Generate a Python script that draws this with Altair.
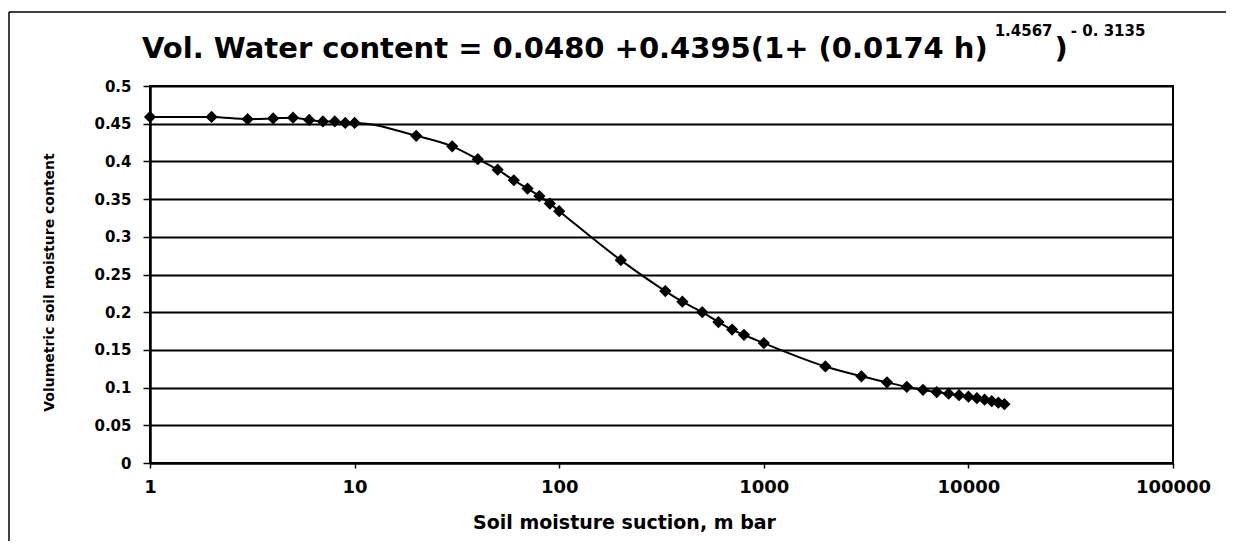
import altair as alt
import pandas as pd

# ---- data ----
suction_mbar = [1, 2, 3, 4, 5, 6, 7, 8, 9, 10,
                20, 30, 40, 50, 60, 70, 80, 90, 100,
                200, 330, 400, 500, 600, 700, 800, 1000,
                2000, 3000, 4000, 5000, 6000, 7000, 8000, 9000, 10000,
                11000, 12000, 13000, 14000, 15000]
vol_water = [0.459, 0.459, 0.456, 0.457, 0.458, 0.455, 0.453, 0.453, 0.451, 0.451,
             0.434, 0.420, 0.403, 0.389, 0.375, 0.364, 0.354, 0.344, 0.334,
             0.269, 0.228, 0.214, 0.200, 0.187, 0.177, 0.170, 0.159,
             0.128, 0.115, 0.107, 0.101, 0.097, 0.094, 0.092, 0.090, 0.088,
             0.086, 0.084, 0.082, 0.080, 0.078]
y_ticks = [0, 0.05, 0.1, 0.15, 0.2, 0.25, 0.3, 0.35, 0.4, 0.45, 0.5]
x_ticks = [1, 10, 100, 1000, 10000, 100000]

title_main = "Vol. Water content = 0.0480 +0.4395(1+ (0.0174 h)"
title_sup1 = "1.4567"
title_paren = ")"
title_sup2 = "- 0. 3135"
x_title = "Soil moisture suction, m bar"
y_title = "Volumetric soil moisture content"

FONT = "DejaVu Sans"
W, H = 1023, 377

# approximate DejaVu Sans Bold advance widths (em) for laying out the title pieces
adv = {" ": .348, ".": .381, ",": .381, "+": .838, "=": .838, "(": .458, ")": .458,
       "-": .415, "V": .774, "W": 1.102, "o": .687, "l": .343, "a": .675, "t": .478,
       "e": .678, "r": .493, "c": .593, "n": .712, "h": .712}
def tw(s, size):
    return sum(adv.get(ch, .696) for ch in s) * size

MAIN, SUP = 29, 15
w_main = tw(title_main, MAIN)
w_s1 = tw(title_sup1, SUP)
w_p = tw(title_paren, MAIN)
x0 = -8
x_s1 = x0 + w_main + 4
x_p = x_s1 + w_s1 + 2
x_s2 = x_p + w_p + 3

df = pd.DataFrame({"h": suction_mbar, "theta": vol_water})

x_enc = alt.X("h:Q",
              scale=alt.Scale(type="log", domain=[1, 100000], nice=False),
              axis=alt.Axis(values=x_ticks, format="d", title=x_title, grid=False,
                            labelFontSize=18, labelPadding=10, labelFlush=False,
                            labelOverlap=False, tickSize=5, tickWidth=1.5,
                            domainWidth=2, titleFontSize=19, titleX=474, titleY=50,
                            titleBaseline="top", titleAlign="center"))
y_enc = alt.Y("theta:Q",
              scale=alt.Scale(domain=[0, 0.5], nice=False, zero=True),
              axis=alt.Axis(values=y_ticks, format=".2~f", title=y_title,
                            labelFontSize=15, labelPadding=12, tickSize=7,
                            tickWidth=1.5, domainWidth=2.5, grid=True,
                            gridColor="black", gridWidth=2, gridOpacity=1,
                            titleFontSize=14, titleAngle=-90, titleX=-101,
                            titleY=196, titleAlign="center", titleBaseline="middle"))

base = alt.Chart(df)
line = base.mark_line(color="black", strokeWidth=2, interpolate="monotone").encode(x=x_enc, y=y_enc)
pts = base.mark_point(shape="diamond", filled=True, color="black", size=150,
                      opacity=1).encode(x=x_enc, y=y_enc)

def txt(s, size, px, py):
    return alt.Chart(pd.DataFrame({"t": [s]})).mark_text(
        align="left", baseline="alphabetic", font=FONT, fontWeight="bold",
        fontSize=size, color="black").encode(
        x=alt.value(px), y=alt.value(py), text=alt.Text("t:N"))

t1 = txt(title_main, MAIN, x0, -28)
t2 = txt(title_sup1, SUP, x_s1, -50)
t3 = txt(title_paren, MAIN, x_p, -28)
t4 = txt(title_sup2, SUP, x_s2, -50)

one = pd.DataFrame({"a": [0]})
top_edge = alt.Chart(one).mark_rule(color="black", strokeWidth=1.5).encode(
    x=alt.value(-141), x2=alt.value(1076), y=alt.value(-74))
left_edge = alt.Chart(one).mark_rule(color="black", strokeWidth=1.5).encode(
    x=alt.value(-141), y=alt.value(-74), y2=alt.value(455))

chart = alt.layer(top_edge, left_edge, line, pts, t1, t2, t3, t4).properties(
    width=W, height=H,
    autosize=alt.AutoSizeParams(type="none"),
    padding={"left": 142, "top": 78, "right": 53, "bottom": 78},
    background="white",
).configure_view(stroke="black", strokeWidth=2).configure_axis(
    labelFont=FONT, labelFontWeight="bold", labelColor="black",
    titleFont=FONT, titleFontWeight="bold", titleColor="black",
    tickColor="black", domainColor="black")

chart.save("out.html", embed_options={"renderer": "svg", "actions": False})
